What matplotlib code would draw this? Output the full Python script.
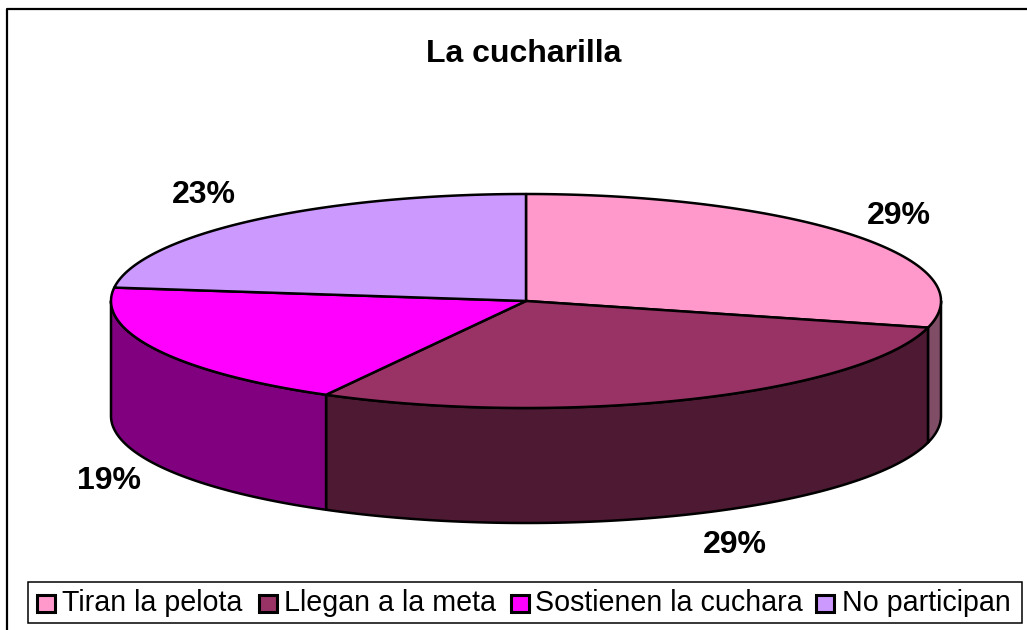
import numpy as np
import matplotlib.pyplot as plt
from matplotlib.patches import Polygon, Rectangle

plt.rcParams['font.family'] = ['Liberation Sans', 'DejaVu Sans']

title = "La cucharilla"
labels = ["Tiran la pelota", "Llegan a la meta", "Sostienen la cuchara", "No participan"]
shares = [29, 29, 19, 23]
top_colors = ["#FF99CC", "#993366", "#FF00FF", "#CC99FF"]
side_colors = ["#804D66", "#4D1933", "#800080", "#664D80"]
pct_x = [899, 735, 109, 204]
pct_y = [216, 545, 481, 195]
legend_x = [37, 259, 511, 816]
legend_text_x = [62, 284, 535, 842]

cx, cy = 526, 301
rx, ry = 415, 107
depth = 115


def rim(a, b):
    # angles in degrees, clockwise from the top of the ellipse
    t = np.radians(np.linspace(a, b, 200))
    return cx + rx * np.sin(t), cy - ry * np.cos(t)


fig = plt.figure(figsize=(10.27, 6.30), dpi=100)
ax = fig.add_axes([0, 0, 1, 1])
ax.set_xlim(0, 1027)
ax.set_ylim(630, 0)
ax.axis('off')

# outer chart frame only shows on the left and top
ax.plot([7, 7, 1027], [630, 9, 9], color='black', lw=1.6, solid_capstyle='butt')

edges = np.cumsum([0] + shares) * 3.6

# side walls, only the front half of the ellipse is visible
for i in range(len(shares)):
    a = max(edges[i], 90)
    b = min(edges[i + 1], 270)
    if a >= b:
        continue
    x, y = rim(a, b)
    pts = np.concatenate([np.c_[x, y], np.c_[x[::-1], y[::-1] + depth]])
    ax.add_patch(Polygon(pts, closed=True, fc=side_colors[i], ec='black', lw=1.8, joinstyle='round'))

# top slices
for i in range(len(shares)):
    x, y = rim(edges[i], edges[i + 1])
    pts = np.concatenate([[[cx, cy]], np.c_[x, y]])
    ax.add_patch(Polygon(pts, closed=True, fc=top_colors[i], ec='black', lw=1.8, joinstyle='round'))

for i in range(len(shares)):
    ax.text(pct_x[i], pct_y[i], f"{shares[i]}%", fontsize=23, fontweight='bold',
            ha='center', va='center')

ax.text(524, 54, title, fontsize=23, fontweight='bold', ha='center', va='center')

# legend
ax.add_patch(Rectangle((28, 582), 994, 41, fc='white', ec='black', lw=1.1))
for i in range(len(labels)):
    ax.add_patch(Rectangle((legend_x[i], 595), 18, 17, fc=top_colors[i], ec='black', lw=2.2))
    ax.text(legend_text_x[i], 611, labels[i], fontsize=20.6, ha='left', va='baseline')

fig.savefig('out.png', dpi=100)
